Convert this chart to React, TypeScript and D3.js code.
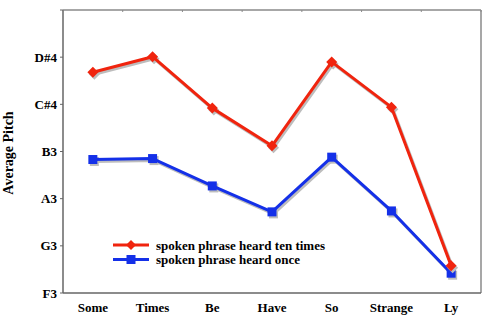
import React from "react";
import * as d3 from "d3";

const categories = ["Some", "Times", "Be", "Have", "So", "Strange", "Ly"];
const tenTimes = [4.68, 5.01, 3.92, 3.12, 4.9, 3.94, 0.58];
const once = [2.83, 2.85, 2.27, 1.72, 2.88, 1.74, 0.42];
const pitchTicks = ["F3", "G3", "A3", "B3", "C#4", "D#4"];
const seriesNames = ["spoken phrase heard ten times", "spoken phrase heard once"];

const W = 486, H = 325;
const m = { left: 63, right: 5, top: 10, bottom: 32 };
const font = "'Liberation Serif', 'Times New Roman', serif";

export default function App() {
  const x = d3.scaleBand().domain(categories).range([m.left, W - m.right]);
  const y = d3.scaleLinear().domain([0, 6]).range([H - m.bottom, m.top]);
  const cx = (c: string) => (x(c) as number) + x.bandwidth() / 2;
  const line = d3.line<number>().x((_, i) => cx(categories[i])).y((d) => y(d));
  const red = "#f0240e";
  const blue = "#1430e8";
  const shadow = "#bdbdbd";
  const diamond = (px: number, py: number, s: number) =>
    `M${px},${py - s}L${px + s},${py}L${px},${py + s}L${px - s},${py}Z`;
  const x0 = m.left, x1 = W - m.right, y0 = H - m.bottom, y1 = m.top;
  const topTicks = d3.range(categories.length + 1).map((i) => x0 + i * x.step());

  const drawSeries = (vals: number[], color: string, kind: "d" | "s") => (
    <g>
      <path d={line(vals) || ""} transform="translate(1.5,2)" fill="none" stroke={shadow} strokeWidth={3} strokeLinejoin="round" />
      {vals.map((v, i) =>
        kind === "d" ? (
          <path key={"sh" + i} d={diamond(cx(categories[i]) + 1.5, y(v) + 2, 5.5)} fill={shadow} />
        ) : (
          <rect key={"sh" + i} x={cx(categories[i]) - 4.5 + 1.5} y={y(v) - 4.5 + 2} width={9} height={9} fill={shadow} />
        )
      )}
      <path d={line(vals) || ""} fill="none" stroke={color} strokeWidth={3} strokeLinejoin="round" />
      {vals.map((v, i) =>
        kind === "d" ? (
          <path key={i} d={diamond(cx(categories[i]), y(v), 5.5)} fill={color} />
        ) : (
          <rect key={i} x={cx(categories[i]) - 4.5} y={y(v) - 4.5} width={9} height={9} fill={color} />
        )
      )}
    </g>
  );

  return (
    <svg width={W} height={H} style={{ position: "absolute", left: 0, top: 0, background: "#fff" }}>
      <rect width={W} height={H} fill="#fff" />
      {/* frame */}
      <line x1={x0} x2={x1} y1={y1} y2={y1} stroke="#8a8a8a" strokeWidth={1.5} />
      <line x1={x1} x2={x1} y1={y1} y2={y0} stroke="#8a8a8a" strokeWidth={1.5} />
      <line x1={x0} x2={x0} y1={y1} y2={y0} stroke="#666" strokeWidth={1.5} />
      <line x1={x0} x2={x1} y1={y0} y2={y0} stroke="#666" strokeWidth={1.5} />
      {topTicks.map((t, i) => (
        <line key={i} x1={t} x2={t} y1={y1} y2={y1 + 2} stroke="#8a8a8a" />
      ))}
      {/* y ticks */}
      {d3.range(0, 7).map((v) => (
        <line key={v} x1={x0 - 3} x2={x0} y1={y(v)} y2={y(v)} stroke="#666" />
      ))}
      {pitchTicks.map((t, i) => (
        <text key={t} x={x0 - 6} y={y(i)} dy="0.35em" textAnchor="end" fontFamily={font} fontWeight="bold" fontSize={13}>
          {t}
        </text>
      ))}
      {categories.map((c) => (
        <text key={c} x={cx(c)} y={y0 + 19} textAnchor="middle" fontFamily={font} fontWeight="bold" fontSize={13}>
          {c}
        </text>
      ))}
      <text transform={`translate(13,153) rotate(-90)`} textAnchor="middle" fontFamily={font} fontWeight="bold" fontSize={14}>
        Average Pitch
      </text>
      {drawSeries(once, blue, "s")}
      {drawSeries(tenTimes, red, "d")}
      {/* legend */}
      <g>
        <line x1={113} x2={149} y1={245} y2={245} stroke={red} strokeWidth={3} />
        <path d={diamond(131, 245, 5)} fill={red} />
        <text x={156} y={245} dy="0.35em" fontFamily={font} fontWeight="bold" fontSize={13}>{seriesNames[0]}</text>
        <line x1={113} x2={149} y1={259.5} y2={259.5} stroke={blue} strokeWidth={3} />
        <rect x={126.5} y={255} width={9} height={9} fill={blue} />
        <text x={156} y={259.5} dy="0.35em" fontFamily={font} fontWeight="bold" fontSize={13}>{seriesNames[1]}</text>
      </g>
    </svg>
  );
}
